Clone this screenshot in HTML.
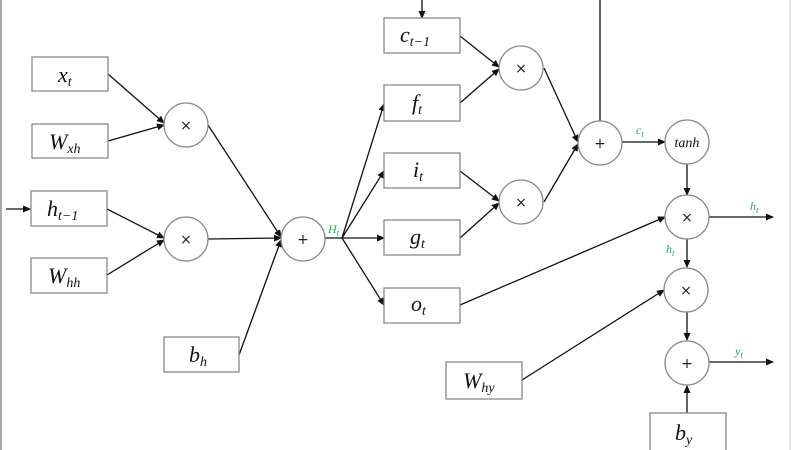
<!DOCTYPE html>
<html><head><meta charset="utf-8"><style>
html,body{margin:0;padding:0;background:#fff;}
svg{display:block;}
.b{fill:#fff;stroke:#8a8a8a;stroke-width:1.3;}
.c{fill:#fff;stroke:#8a8a8a;stroke-width:1.3;}
.l{stroke:#111;stroke-width:1.3;fill:none;}
.t{font-family:"Liberation Serif",serif;font-style:italic;font-size:22px;fill:#111;}
.s{font-size:14px;}
.o{font-family:"DejaVu Sans",sans-serif;font-size:14px;fill:#222;text-anchor:middle;}
.g{font-family:"Liberation Serif",serif;font-style:italic;font-size:12px;fill:#2aa65a;}
</style></head><body>
<svg width="800" height="450" viewBox="0 0 800 450" xmlns="http://www.w3.org/2000/svg">
<defs><marker id="a" markerWidth="8" markerHeight="8" refX="7" refY="3.5" orient="auto" markerUnits="userSpaceOnUse"><path d="M0,0 L8,3.5 L0,7 z" fill="#111"/></marker></defs>
<line x1="1" y1="0" x2="1" y2="450" stroke="#aaa" stroke-width="2"/>
<line x1="790" y1="0" x2="790" y2="450" stroke="#ccc" stroke-width="1"/>
<!-- lines -->
<g class="l">
<line x1="108" y1="74" x2="164" y2="123" marker-end="url(#a)"/>
<line x1="108" y1="141" x2="164" y2="125" marker-end="url(#a)"/>
<line x1="6" y1="209" x2="30" y2="209" marker-end="url(#a)"/>
<line x1="107" y1="209" x2="164" y2="238" marker-end="url(#a)"/>
<line x1="107" y1="275" x2="164" y2="240" marker-end="url(#a)"/>
<line x1="208" y1="125" x2="281" y2="237" marker-end="url(#a)"/>
<line x1="208" y1="239" x2="281" y2="238" marker-end="url(#a)"/>
<line x1="239" y1="355" x2="281" y2="240" marker-end="url(#a)"/>
<line x1="325" y1="238" x2="342" y2="238"/>
<line x1="342" y1="238" x2="384" y2="104" marker-end="url(#a)"/>
<line x1="342" y1="238" x2="384" y2="171" marker-end="url(#a)"/>
<line x1="342" y1="238" x2="384" y2="238" marker-end="url(#a)"/>
<line x1="342" y1="238" x2="384" y2="305" marker-end="url(#a)"/>
<line x1="422" y1="0" x2="422" y2="18" marker-end="url(#a)"/>
<line x1="460" y1="36" x2="499" y2="67" marker-end="url(#a)"/>
<line x1="460" y1="103" x2="499" y2="69" marker-end="url(#a)"/>
<line x1="460" y1="171" x2="499" y2="201" marker-end="url(#a)"/>
<line x1="460" y1="238" x2="499" y2="203" marker-end="url(#a)"/>
<line x1="544" y1="68" x2="578" y2="142" marker-end="url(#a)"/>
<line x1="544" y1="202" x2="578" y2="144" marker-end="url(#a)"/>
<line x1="600" y1="0" x2="600" y2="121"/>
<line x1="622" y1="142" x2="665" y2="142" marker-end="url(#a)"/>
<line x1="687" y1="164" x2="687" y2="195" marker-end="url(#a)"/>
<line x1="709" y1="217" x2="773" y2="217" marker-end="url(#a)"/>
<line x1="460" y1="305" x2="665" y2="217" marker-end="url(#a)"/>
<line x1="687" y1="239" x2="687" y2="267" marker-end="url(#a)"/>
<line x1="522" y1="380" x2="664" y2="290" marker-end="url(#a)"/>
<line x1="687" y1="312" x2="687" y2="340" marker-end="url(#a)"/>
<line x1="709" y1="362" x2="773" y2="362" marker-end="url(#a)"/>
<line x1="687" y1="413" x2="687" y2="386" marker-end="url(#a)"/>
</g>
<!-- boxes -->
<rect class="b" x="32" y="57" width="76" height="34"/>
<rect class="b" x="32" y="124" width="76" height="34"/>
<rect class="b" x="31" y="191" width="76" height="35"/>
<rect class="b" x="31" y="258" width="76" height="35"/>
<rect class="b" x="164" y="337" width="75" height="35"/>
<rect class="b" x="384" y="18" width="76" height="35"/>
<rect class="b" x="384" y="85" width="76" height="36"/>
<rect class="b" x="384" y="153" width="76" height="35"/>
<rect class="b" x="384" y="220" width="76" height="35"/>
<rect class="b" x="384" y="288" width="76" height="35"/>
<rect class="b" x="446" y="362" width="76" height="37"/>
<rect class="b" x="650" y="413" width="76" height="40"/>
<!-- circles -->
<circle class="c" cx="186" cy="125" r="22"/><text class="o" x="186" y="130">×</text>
<circle class="c" cx="186" cy="239" r="22"/><text class="o" x="186" y="244">×</text>
<circle class="c" cx="303" cy="239" r="22"/><text class="o" x="303" y="244">+</text>
<circle class="c" cx="521" cy="68" r="22"/><text class="o" x="521" y="73">×</text>
<circle class="c" cx="521" cy="202" r="22"/><text class="o" x="521" y="207">×</text>
<circle class="c" cx="600" cy="143" r="22"/><text class="o" x="600" y="148">+</text>
<circle class="c" cx="687" cy="142" r="22"/><text class="t" x="687" y="147" style="font-size:14px" text-anchor="middle">tanh</text>
<circle class="c" cx="687" cy="217" r="22"/><text class="o" x="687" y="222">×</text>
<circle class="c" cx="686" cy="290" r="22"/><text class="o" x="686" y="295">×</text>
<circle class="c" cx="687" cy="363" r="22"/><text class="o" x="687" y="368">+</text>
<!-- labels -->
<text class="t" x="58" y="82">x<tspan class="s" dy="4">t</tspan></text>
<text class="t" x="49" y="149">W<tspan class="s" dy="4">xh</tspan></text>
<text class="t" x="47" y="216">h<tspan class="s" dy="4">t−1</tspan></text>
<text class="t" x="48" y="283">W<tspan class="s" dy="4">hh</tspan></text>
<text class="t" x="189" y="362">b<tspan class="s" dy="4">h</tspan></text>
<text class="t" x="400" y="42">c<tspan class="s" dy="4">t−1</tspan></text>
<text class="t" x="412" y="110">f<tspan class="s" dy="4">t</tspan></text>
<text class="t" x="413" y="177">i<tspan class="s" dy="4">t</tspan></text>
<text class="t" x="410" y="244">g<tspan class="s" dy="4">t</tspan></text>
<text class="t" x="411" y="311">o<tspan class="s" dy="4">t</tspan></text>
<text class="t" x="463" y="388">W<tspan class="s" dy="4">hy</tspan></text>
<text class="t" x="675" y="440">b<tspan class="s" dy="4">y</tspan></text>
<text class="g" x="328" y="233">H<tspan dy="3" style="font-size:9px">t</tspan></text>
<text class="g" x="636" y="134">c<tspan dy="3" style="font-size:9px">t</tspan></text>
<text class="g" x="750" y="210">h<tspan dy="3" style="font-size:9px">t</tspan></text>
<text class="g" x="666" y="253">h<tspan dy="3" style="font-size:9px">t</tspan></text>
<text class="g" x="735" y="355">y<tspan dy="3" style="font-size:9px">t</tspan></text>
</svg>
</body></html>
